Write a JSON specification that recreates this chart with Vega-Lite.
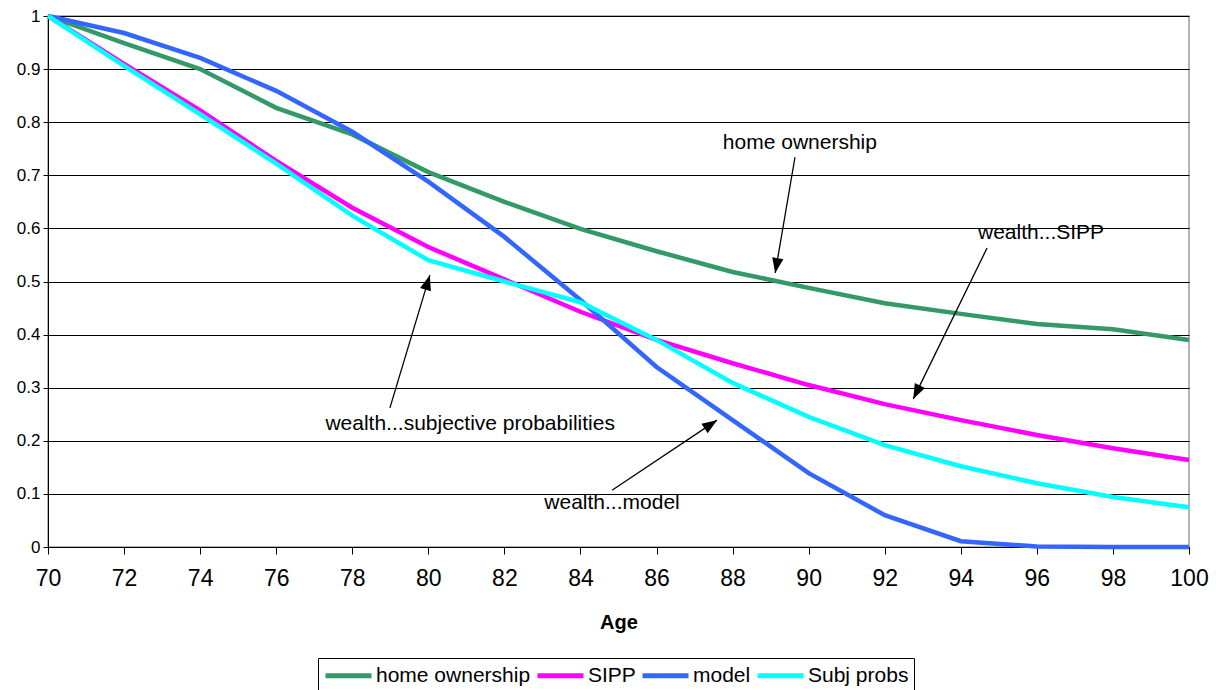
{
  "$schema": "https://vega.github.io/schema/vega-lite/v6.json",
  "width": 1141,
  "height": 531,
  "autosize": {"type": "none"},
  "padding": {"left": 48, "top": 16, "right": 27, "bottom": 143},
  "background": "white",
  "config": {
    "font": "Liberation Sans",
    "view": {"stroke": "#9a9a9a", "strokeWidth": 1.5},
    "axis": {"labelColor": "black", "titleColor": "black", "domainColor": "black", "tickColor": "black", "gridColor": "black", "gridOpacity": 1, "gridWidth": 1}
  },
  "datasets": {
    "series": [
      {"age": 70, "series": "home ownership", "value": 1.0},
      {"age": 72, "series": "home ownership", "value": 0.949},
      {"age": 74, "series": "home ownership", "value": 0.9},
      {"age": 76, "series": "home ownership", "value": 0.827},
      {"age": 78, "series": "home ownership", "value": 0.777},
      {"age": 80, "series": "home ownership", "value": 0.706},
      {"age": 82, "series": "home ownership", "value": 0.65},
      {"age": 84, "series": "home ownership", "value": 0.599},
      {"age": 86, "series": "home ownership", "value": 0.557},
      {"age": 88, "series": "home ownership", "value": 0.518},
      {"age": 90, "series": "home ownership", "value": 0.488},
      {"age": 92, "series": "home ownership", "value": 0.459},
      {"age": 94, "series": "home ownership", "value": 0.439},
      {"age": 96, "series": "home ownership", "value": 0.42},
      {"age": 98, "series": "home ownership", "value": 0.41},
      {"age": 100, "series": "home ownership", "value": 0.39},
      {"age": 70, "series": "SIPP", "value": 1.0},
      {"age": 72, "series": "SIPP", "value": 0.91},
      {"age": 74, "series": "SIPP", "value": 0.822},
      {"age": 76, "series": "SIPP", "value": 0.727},
      {"age": 78, "series": "SIPP", "value": 0.639},
      {"age": 80, "series": "SIPP", "value": 0.565},
      {"age": 82, "series": "SIPP", "value": 0.504},
      {"age": 84, "series": "SIPP", "value": 0.443},
      {"age": 86, "series": "SIPP", "value": 0.39},
      {"age": 88, "series": "SIPP", "value": 0.346},
      {"age": 90, "series": "SIPP", "value": 0.305},
      {"age": 92, "series": "SIPP", "value": 0.269},
      {"age": 94, "series": "SIPP", "value": 0.239},
      {"age": 96, "series": "SIPP", "value": 0.211},
      {"age": 98, "series": "SIPP", "value": 0.186},
      {"age": 100, "series": "SIPP", "value": 0.164},
      {"age": 70, "series": "model", "value": 1.0},
      {"age": 72, "series": "model", "value": 0.968},
      {"age": 74, "series": "model", "value": 0.921},
      {"age": 76, "series": "model", "value": 0.859},
      {"age": 78, "series": "model", "value": 0.782},
      {"age": 80, "series": "model", "value": 0.688},
      {"age": 82, "series": "model", "value": 0.584},
      {"age": 84, "series": "model", "value": 0.465},
      {"age": 86, "series": "model", "value": 0.339},
      {"age": 88, "series": "model", "value": 0.239},
      {"age": 90, "series": "model", "value": 0.139},
      {"age": 92, "series": "model", "value": 0.06},
      {"age": 94, "series": "model", "value": 0.011},
      {"age": 96, "series": "model", "value": 0.001},
      {"age": 98, "series": "model", "value": 0.0},
      {"age": 100, "series": "model", "value": 0.0},
      {"age": 70, "series": "Subj probs", "value": 1.0},
      {"age": 72, "series": "Subj probs", "value": 0.906},
      {"age": 74, "series": "Subj probs", "value": 0.815},
      {"age": 76, "series": "Subj probs", "value": 0.722},
      {"age": 78, "series": "Subj probs", "value": 0.624},
      {"age": 80, "series": "Subj probs", "value": 0.54},
      {"age": 82, "series": "Subj probs", "value": 0.5},
      {"age": 84, "series": "Subj probs", "value": 0.461},
      {"age": 86, "series": "Subj probs", "value": 0.39},
      {"age": 88, "series": "Subj probs", "value": 0.309},
      {"age": 90, "series": "Subj probs", "value": 0.245},
      {"age": 92, "series": "Subj probs", "value": 0.192},
      {"age": 94, "series": "Subj probs", "value": 0.152},
      {"age": 96, "series": "Subj probs", "value": 0.12},
      {"age": 98, "series": "Subj probs", "value": 0.094},
      {"age": 100, "series": "Subj probs", "value": 0.075}
    ],
    "notes": [
      {"note": "home", "label": "home ownership", "tx": 89.77, "ty": 0.761, "x1": 89.64, "y1": 0.734, "x2": 89.12, "y2": 0.516},
      {"note": "sipp", "label": "wealth...SIPP", "tx": 96.11, "ty": 0.591, "x1": 94.69, "y1": 0.563, "x2": 92.75, "y2": 0.279},
      {"note": "subj", "label": "wealth...subjective probabilities", "tx": 81.1, "ty": 0.232, "x1": 78.99, "y1": 0.262, "x2": 80.04, "y2": 0.512},
      {"note": "model", "label": "wealth...model", "tx": 84.83, "ty": 0.083, "x1": 84.83, "y1": 0.107, "x2": 87.59, "y2": 0.239}
    ]
  },
  "layer": [
    {
      "data": {"name": "series"},
      "mark": {"type": "line", "strokeWidth": 4.5, "strokeJoin": "miter", "strokeCap": "butt"},
      "encoding": {
        "x": {
          "field": "age", "type": "quantitative",
          "scale": {"domain": [70, 100], "nice": false, "zero": false},
          "axis": {
            "title": "Age", "titleFontSize": 20, "titleFontWeight": "bold", "titlePadding": 22,
            "values": [70, 72, 74, 76, 78, 80, 82, 84, 86, 88, 90, 92, 94, 96, 98, 100],
            "labelFontSize": 23, "labelPadding": 13, "tickSize": 7, "grid": false, "labelFlush": false
          }
        },
        "y": {
          "field": "value", "type": "quantitative",
          "scale": {"domain": [0, 1], "nice": false},
          "axis": {
            "title": null, "values": [0, 0.1, 0.2, 0.3, 0.4, 0.5, 0.6, 0.7, 0.8, 0.9, 1],
            "format": ".1~f", "labelFontSize": 17, "labelPadding": 3, "tickSize": 5, "grid": true
          }
        },
        "color": {
          "field": "series", "type": "nominal",
          "scale": {"domain": ["home ownership", "SIPP", "model", "Subj probs"], "range": ["#339966", "#FF00FF", "#3366FF", "#00FFFF"]},
          "legend": {
            "title": null, "orient": "none", "legendX": 270, "legendY": 642, "direction": "horizontal",
            "strokeColor": "black", "fillColor": "white", "padding": 5,
            "symbolType": "M-1,0H3.6", "symbolSize": 400, "symbolStrokeWidth": 5,
            "labelFontSize": 21, "labelOffset": 28, "columnPadding": -4, "labelColor": "black", "labelLimit": 300
          }
        }
      }
    },
    {
      "data": {"name": "notes"},
      "mark": {"type": "rule", "color": "black", "strokeWidth": 1.3},
      "encoding": {
        "x": {"field": "x1", "type": "quantitative"},
        "y": {"field": "y1", "type": "quantitative"},
        "x2": {"field": "x2"},
        "y2": {"field": "y2"}
      }
    },
    {
      "data": {"name": "notes"},
      "mark": {"type": "text", "fontSize": 21, "color": "black", "align": "center", "baseline": "middle"},
      "encoding": {
        "x": {"field": "tx", "type": "quantitative"},
        "y": {"field": "ty", "type": "quantitative"},
        "text": {"field": "label"}
      }
    },
    {
      "data": {"name": "notes"},
      "transform": [{"filter": "datum.note == 'home'"}],
      "mark": {"type": "point", "shape": "M0,-1L0.75,1L-0.75,1Z", "size": 225, "filled": true, "color": "black", "opacity": 1, "angle": 189.8, "xOffset": 1.3, "yOffset": -7.4},
      "encoding": {"x": {"field": "x2", "type": "quantitative"}, "y": {"field": "y2", "type": "quantitative"}}
    },
    {
      "data": {"name": "notes"},
      "transform": [{"filter": "datum.note == 'sipp'"}],
      "mark": {"type": "point", "shape": "M0,-1L0.75,1L-0.75,1Z", "size": 225, "filled": true, "color": "black", "opacity": 1, "angle": 206.1, "xOffset": 3.3, "yOffset": -6.7},
      "encoding": {"x": {"field": "x2", "type": "quantitative"}, "y": {"field": "y2", "type": "quantitative"}}
    },
    {
      "data": {"name": "notes"},
      "transform": [{"filter": "datum.note == 'subj'"}],
      "mark": {"type": "point", "shape": "M0,-1L0.75,1L-0.75,1Z", "size": 225, "filled": true, "color": "black", "opacity": 1, "angle": 16.7, "xOffset": -2.2, "yOffset": 7.2},
      "encoding": {"x": {"field": "x2", "type": "quantitative"}, "y": {"field": "y2", "type": "quantitative"}}
    },
    {
      "data": {"name": "notes"},
      "transform": [{"filter": "datum.note == 'model'"}],
      "mark": {"type": "point", "shape": "M0,-1L0.75,1L-0.75,1Z", "size": 225, "filled": true, "color": "black", "opacity": 1, "angle": 56.3, "xOffset": -6.2, "yOffset": 4.2},
      "encoding": {"x": {"field": "x2", "type": "quantitative"}, "y": {"field": "y2", "type": "quantitative"}}
    }
  ]
}
